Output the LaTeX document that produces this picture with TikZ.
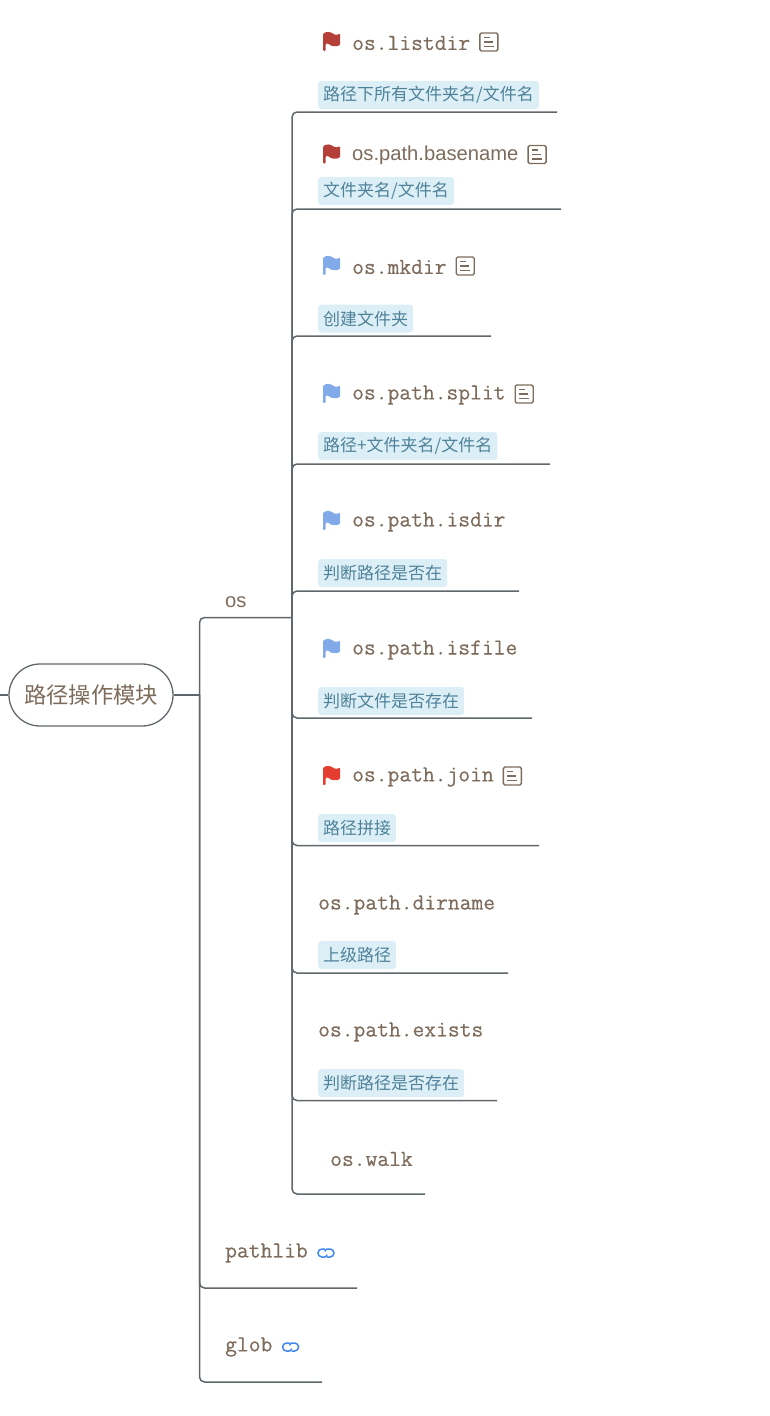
\documentclass[tikz,border=0pt]{standalone}
\usepackage{fontspec}
\usepackage{xcolor}
\setmainfont{Liberation Sans}
\setmonofont{Latin Modern Mono}[FakeBold=0.35]
\newfontfamily\cjk{Noto Sans CJK SC}
\definecolor{inktext}{HTML}{7D6B5B}
\definecolor{notetext}{HTML}{4F8299}
\definecolor{notefill}{HTML}{DCEFF7}
\definecolor{wire}{HTML}{5F676C}
\definecolor{flagdark}{HTML}{B5403A}
\definecolor{flagblue}{HTML}{82A9E8}
\definecolor{flagred}{HTML}{E53D30}
\definecolor{linkblue}{HTML}{3F86EE}
\tikzset{
  wireline/.style={wire,line width=1.5pt,rounded corners=5pt},
  title/.style={anchor=west,inner sep=0pt,yshift=-1pt,text=inktext,font=\ttfamily\fontsize{22.9}{22}\selectfont},
  sanstitle/.style={title,font=\fontsize{20.2}{20}\selectfont},
  notebox/.style={anchor=west,fill=notefill,text=notetext,rounded corners=3pt,inner sep=0pt,
    inner xsep=5pt,minimum height=28pt,font=\cjk\fontsize{17}{17}\selectfont},
  flagicon/.pic={
    \fill[rounded corners=1pt] (-8.5,9) -- (-8.5,-8) .. controls (-5,-11) and (-1,-10) .. (2,-8)
      .. controls (4,-7) and (6,-7) .. (8.5,-8.5) -- (8.5,3) .. controls (4,5) and (0,4) .. (-2,2.5)
      .. controls (-3.5,1.5) and (-5,1.5) .. (-6,2) -- (-6,9) -- cycle;
  },
  docicon/.pic={
    \draw[inktext,line width=1.4pt,rounded corners=1.5pt] (-9,-9) rectangle (9,9);
    \draw[inktext,line width=1.2pt] (-5,-4.5) -- (1,-4.5) (-5,0) -- (4,0) (-5,4.5) -- (5,4.5);
  },
  linkicon/.pic={
    \draw[linkblue,line width=1.5pt] (1,1.5) .. controls (1,3) and (0,4) .. (-1.5,4) -- (-4,4)
      arc (90:270:4) -- (-1,-4);
    \draw[linkblue,line width=1.5pt] (-1,-1.5) .. controls (-1,-3) and (0,-4) .. (1.5,-4) -- (4,-4)
      arc (-90:90:4) -- (1,4);
  }
}
\begin{document}
\begin{tikzpicture}[x=1pt,y=-1pt]
  \useasboundingbox (0,0) rectangle (770,1416);
  % centre of the map
  \node[draw=wire,line width=1.3pt,fill=white,rounded corners=31pt,minimum width=164pt,minimum height=62pt,
    inner sep=0pt,text=inktext,font=\cjk\fontsize{22.3}{22}\selectfont] (root) at (91,695) {\raisebox{-1.5pt}{路径操作模块}};
  \coordinate (leftend) at (0,695);
  \coordinate (rootjoin) at (199.5,695);
  \coordinate (osjoin) at (292,617.5);
  \coordinate (pathlibend) at (357,1288);
  \coordinate (globend) at (322,1382);
  \draw[wire,line width=1.5pt] (leftend) -- (root.west);
  \draw[wire,line width=1.5pt] (root.east) -- (rootjoin);
  \draw[wireline] (rootjoin) |- (osjoin);
  \draw[wireline] (rootjoin) |- (pathlibend);
  \draw[wireline] (rootjoin) |- (globend);
  \node[sanstitle] (os) at (225,601) {os};
  \node[title] (pathlib) at (225,1252) {pathlib};
  \node[title] (glob) at (225,1346) {glob};
  \pic at ([xshift=18pt]pathlib.east) {linkicon};
  \pic at ([xshift=18pt]glob.east) {linkicon};
  % rows under os
  \foreach \i/\tx/\ty/\lab/\uy/\ux in {
    1/352/42/os.listdir/112/557,
    3/352/266/os.mkdir/336/491,
    4/352/394/os.path.split/464/550,
    5/352/521/os.path.isdir/591/519,
    6/352/649/os.path.isfile/718/532,
    7/352/776/os.path.join/845.5/539,
    8/318/904/os.path.dirname/973/508,
    9/318/1031/os.path.exists/1100.5/497,
    10/330/1158/os.walk/1194/425}{
    \node[title] (t\i) at (\tx,\ty) {\lab};
    \coordinate (u\i) at (\ux,\uy);
    \draw[wireline] (osjoin) |- (u\i);
  }
  \node[sanstitle] (t2) at (352,154.5) {os.path.basename};
  \coordinate (u2) at (561,209);
  \draw[wireline] (osjoin) |- (u2);
  \foreach \i/\ny/\txt in {
    1/95/{路径下所有文件夹名/文件名},
    2/191/{文件夹名/文件名},
    3/318.5/{创建文件夹},
    4/446/{路径+文件夹名/文件名},
    5/573/{判断路径是否在},
    6/701/{判断文件是否存在},
    7/828/{路径拼接},
    8/955/{上级路径},
    9/1083/{判断路径是否存在}}{
    \node[notebox] (n\i) at (318,\ny) {\txt};
  }
  \foreach \i/\c in {1/flagdark,2/flagdark,3/flagblue,4/flagblue,5/flagblue,6/flagblue,7/flagred}{
    \pic[color=\c] at ([xshift=-20.5pt,yshift=1pt]t\i.west) {flagicon};
  }
  \foreach \i in {1,2,3,4,7}{
    \pic at ([xshift=18.5pt,yshift=1pt]t\i.east) {docicon};
  }
\end{tikzpicture}
\end{document}
